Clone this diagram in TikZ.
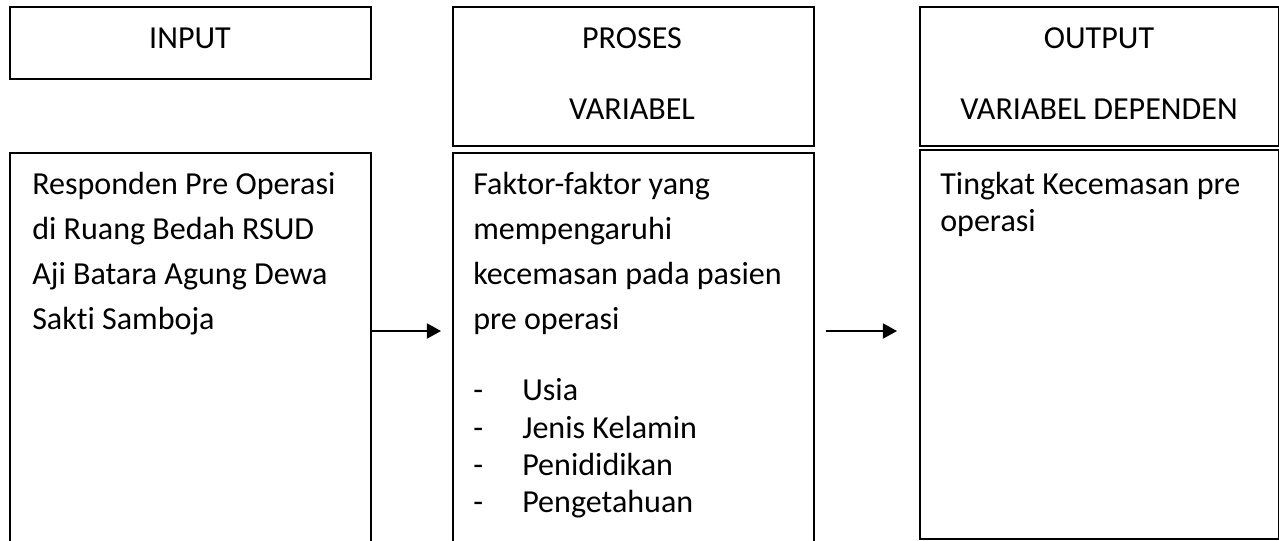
\documentclass[tikz,border=0pt]{standalone}
\usepackage{fontspec}
\setmainfont{Carlito}[Ligatures={NoCommon}]
\usetikzlibrary{arrows.meta}
\newlength\pxl
\setlength\pxl{0.025cm}
\begin{document}
\begin{tikzpicture}[x=0.025cm,y=-0.025cm,
  box/.style={draw=black, line width=1.2pt, rectangle, inner sep=0pt, anchor=north west},
  txt/.style={inner sep=0pt, anchor=base west, font=\fontsize{22.8}{27}\selectfont},
  ttl/.style={inner sep=0pt, anchor=base, font=\fontsize{22.8}{27}\selectfont},
  arr/.style={line width=1.2pt, -{Triangle[length=10pt, width=10.7pt]}}]
\useasboundingbox (0,0) rectangle (1279,540);
\clip (0,0) rectangle (1279,540);
% boxes
\node[box, minimum width=361\pxl, minimum height=72\pxl] (inTop) at (9,6) {};
\node[box, minimum width=361\pxl, minimum height=420\pxl] (inBody) at (9,152) {};
\node[box, minimum width=361\pxl, minimum height=139\pxl] (prTop) at (452,6) {};
\node[box, minimum width=361\pxl, minimum height=420\pxl] (prBody) at (452,152) {};
\node[box, minimum width=359\pxl, minimum height=139\pxl] (outTop) at (919,6) {};
\node[box, minimum width=359\pxl, minimum height=389\pxl] (outBody) at (919,149) {};
% titles
\node[ttl] (tIn) at (190,48) {INPUT};
\node[ttl] (tPr) at (632,48) {PROSES};
\node[ttl] (tPrV) at (632,119) {VARIABEL};
\node[ttl] (tOut) at (1099,48) {OUTPUT};
\node[ttl] (tOutV) at (1099,119) {VARIABEL DEPENDEN};
% input text
\node[txt] (i1) at (32,194) {Responden Pre Operasi};
\node[txt] (i2) at (32,239) {di Ruang Bedah RSUD};
\node[txt] (i3) at (32,284) {Aji Batara Agung Dewa};
\node[txt] (i4) at (32,329) {Sakti Samboja};
% proses text
\node[txt] (p1) at (473,194) {Faktor-faktor yang};
\node[txt] (p2) at (473,239) {mempengaruhi};
\node[txt] (p3) at (473,284) {kecemasan pada pasien};
\node[txt] (p4) at (473,329) {pre operasi};
\node[txt] (d1) at (473,400) {-};
\node[txt] (l1) at (522,400) {Usia};
\node[txt] (d2) at (473,438) {-};
\node[txt] (l2) at (522,438) {Jenis Kelamin};
\node[txt] (d3) at (473,475) {-};
\node[txt] (l3) at (522,475) {Penididikan};
\node[txt] (d4) at (473,512) {-};
\node[txt] (l4) at (522,512) {Pengetahuan};
% output text
\node[txt] (o1) at (940,194) {Tingkat Kecemasan pre};
\node[txt] (o2) at (940,231) {operasi};
% arrows
\coordinate (a1end) at (441,331);
\coordinate (a2start) at (826,331);
\coordinate (a2end) at (897,331);
\draw[arr] (inBody.east |- a1end) -- (a1end);
\draw[arr] (a2start) -- (a2end);
\end{tikzpicture}
\end{document}
